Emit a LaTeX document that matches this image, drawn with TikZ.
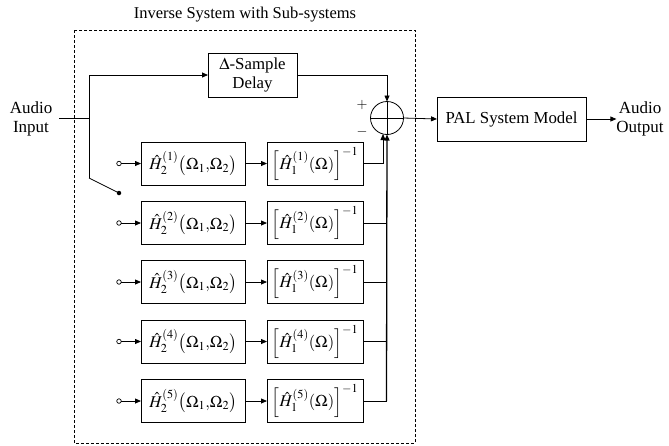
\documentclass[tikz,border=0pt]{standalone}
\usepackage{mathptmx}
\usepackage{fontspec}
\setmainfont{Liberation Serif}
\usetikzlibrary{arrows.meta,calc}
\begin{document}
\begin{tikzpicture}[x=1pt,y=-1pt,
  every node/.style={inner sep=0pt,outer sep=0pt},
  lbl/.style={font=\fontsize{17}{18.5}\selectfont,align=center},
  blk/.style={draw,line width=0.8pt,font=\fontsize{16.8}{19}\selectfont,align=center},
  mblk/.style={draw,line width=0.8pt,font=\fontsize{16.5}{19}\selectfont,align=center},
  conn/.style={line width=0.8pt},
  arr/.style={line width=0.8pt,-{Triangle[length=6pt,width=5pt]}},
  opendot/.style={circle,draw,line width=0.7pt,fill=white,minimum size=4.5pt},
  fulldot/.style={circle,fill=black,minimum size=4.5pt}]
\useasboundingbox (0,0) rectangle (669,445);
% dashed frame
\draw[line width=0.7pt,dash pattern=on 3pt off 2pt] (74,30) rectangle (415,443);
\node[font=\fontsize{16.5}{18}\selectfont] (title) at (245,15) {Inverse System with Sub-systems};
% input
\node[lbl] (ain) at (31,119) {Audio\\Input};
\coordinate (instart) at (59,118);
\coordinate (j) at (89,118);
\coordinate (jtop) at (89,75);
\coordinate (jbot) at (89,178);
\draw[conn] (instart) -- (j);
\draw[conn] (jtop) -- (jbot);
\node[blk,minimum width=89pt,minimum height=44pt] (delay) at (252.5,75) {$\Delta$-Sample\\Delay};
\draw[arr] (jtop) -- (delay.west);
% sum
\node[circle,draw,line width=0.8pt,minimum size=33pt] (sum) at (387,118) {};
\draw[line width=0.7pt] (sum.north) -- (sum.south) (sum.west) -- (sum.east);
\node[font=\fontsize{14}{16}\selectfont] (plus) at (362,105) {$+$};
\node[font=\fontsize{14}{16}\selectfont] (minus) at (362,132) {$-$};
\draw[arr] (delay.east) -| (sum.north);
% switch
\node[fulldot] (sw) at (119,193) {};
\draw[conn] (jbot) -- (sw.center);
% rows
\foreach \i/\y in {1/163.5,2/223,3/282,4/341.5,5/401}{
  \node[opendot] (o\i) at (119,\y) {};
  \node[mblk,minimum width=104pt,minimum height=43pt] (a\i) at (193,\y)
    {$\hat{H}_2^{(\i)}\bigl(\Omega_1{,}\Omega_2\bigr)$};
  \node[mblk,minimum width=96pt,minimum height=43pt] (b\i) at (315,\y)
    {$\Bigl[\hat{H}_1^{(\i)}(\Omega)\Bigr]^{-1}$};
  \draw[arr] (o\i.east) -- (a\i.west);
  \draw[arr] (a\i.east) -- (b\i.west);
}
\coordinate (k1) at (383,163.5);
\draw[arr] (b1.east) -- (k1) -- ($(sum.center)+(-4,16)$);
\coordinate (bus) at (386.5,401);
\foreach \i in {2,3,4}{\draw[conn] (b\i.east) -- (b\i.east -| bus);}
\draw[conn] (b5.east) -- (bus);
\draw[line width=1.3pt,-{Triangle[length=6pt,width=5pt]}] (bus) -- (sum.south);
% output
\node[blk,minimum width=149pt,minimum height=44pt] (pal) at (511.5,119) {PAL System Model};
\draw[arr] (sum.east) -- (pal.west);
\node[lbl] (aout) at (640,119) {Audio\\Output};
\draw[arr] (pal.east) -- (aout.west);
\end{tikzpicture}
\end{document}
